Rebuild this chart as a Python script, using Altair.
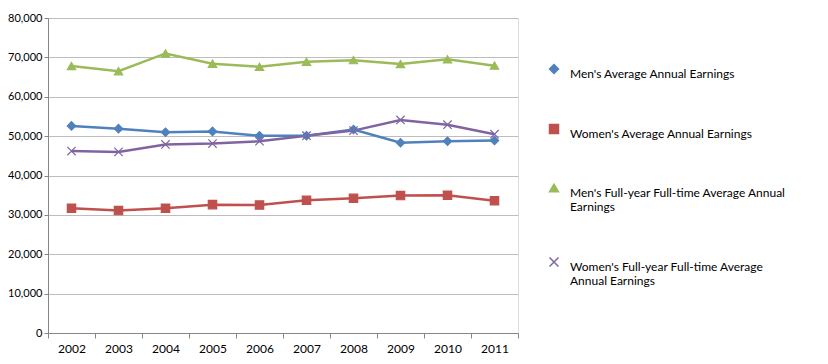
import json
import altair as alt
import pandas as pd

years = ["2002", "2003", "2004", "2005", "2006", "2007", "2008", "2009", "2010", "2011"]
series_names = [
    "Men's Average Annual Earnings",
    "Women's Average Annual Earnings",
    "Men's Full-year Full-time  Average Annual Earnings",
    "Women's Full-year Full-time  Average Annual Earnings",
]
mens_avg = [52600, 51900, 51000, 51200, 50100, 50100, 51700, 48300, 48700, 48900]
womens_avg = [31700, 31100, 31700, 32600, 32500, 33700, 34200, 34900, 35000, 33600]
mens_ft = [67800, 66500, 71000, 68400, 67600, 68900, 69300, 68300, 69500, 67900]
womens_ft = [46200, 46000, 47900, 48100, 48700, 50100, 51400, 54100, 52900, 50500]
wrapped = {
    series_names[2]: ["Men's Full-year Full-time  Average Annual", "Earnings"],
    series_names[3]: ["Women's Full-year Full-time  Average", "Annual Earnings"],
}
colors = ["#4F81BD", "#C0504D", "#9BBB59", "#8064A2"]
shapes = ["diamond", "square", "triangle-up", "M-1,-1L1,1M1,-1L-1,1"]

rows = []
for name, vals in zip(series_names, [mens_avg, womens_avg, mens_ft, womens_ft]):
    for y, v in zip(years, vals):
        rows.append({"Year": y, "Series": name, "Value": v})
df = pd.DataFrame(rows)

label_expr = "datum.label"
for k, v in wrapped.items():
    label_expr = f"datum.label == {json.dumps(k)} ? {json.dumps(v)} : ({label_expr})"

FONT = "Lato"

x = alt.X("Year:O", title=None, sort=years,
          axis=alt.Axis(labelAngle=0, tickBand="extent", grid=False,
                        domainColor="#868686", tickColor="#868686",
                        tickSize=5, labelPadding=5, labelFontSize=12,
                        labelColor="#000000", labelFont=FONT))
y = alt.Y("Value:Q", title=None,
          scale=alt.Scale(domain=[0, 80000], nice=False),
          axis=alt.Axis(values=list(range(0, 80001, 10000)), format=",d",
                        gridColor="#BDBDBD", gridWidth=1.2,
                        domainColor="#868686", tickColor="#868686",
                        tickSize=4, labelPadding=2, labelFontSize=11,
                        labelColor="#000000", labelFont=FONT))

color_scale = alt.Scale(domain=series_names, range=colors)
legend = alt.Legend(title=None, orient="none", legendX=500, legendY=45,
                    direction="vertical", rowPadding=41, labelFont=FONT,
                    labelFontSize=12, labelColor="#000000", labelOffset=10,
                    labelLimit=400, symbolSize=80, labelExpr=label_expr,
                    labelBaseline="top")

lines = alt.Chart(df).mark_line(strokeWidth=2.5).encode(
    x=x, y=y,
    color=alt.Color("Series:N", scale=color_scale, sort=series_names, legend=legend),
)
points = alt.Chart(df).mark_point(filled=True, size=70, strokeWidth=1.2, opacity=1).encode(
    x=x, y=y,
    color=alt.Color("Series:N", scale=color_scale, sort=series_names, legend=legend),
    stroke=alt.Stroke("Series:N", scale=color_scale, sort=series_names, legend=legend),
    shape=alt.Shape("Series:N", scale=alt.Scale(domain=series_names, range=shapes),
                    sort=series_names, legend=legend),
)

chart = (lines + points).properties(
    width=470, height=315,
    autosize=alt.AutoSizeParams(type="none"),
    padding={"left": 40, "top": 10, "right": 302, "bottom": 23},
).configure_view(stroke=None).configure(background="white")

chart.save("out.html", embed_options={"renderer": "svg", "actions": False})
